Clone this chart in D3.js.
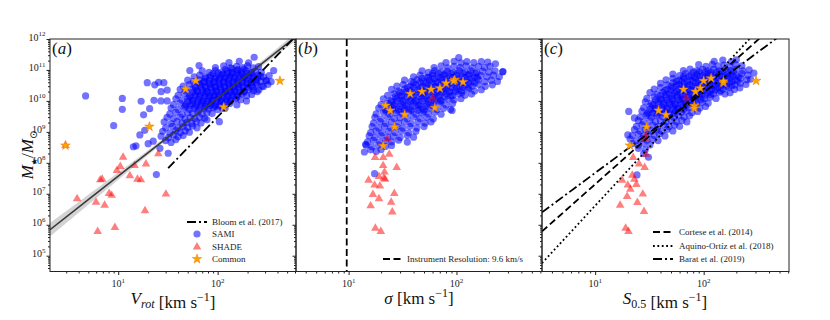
<!DOCTYPE html>
<html>
<head>
<meta charset="utf-8">
<script src="https://cdn.jsdelivr.net/npm/d3@7"></script>
<style>
  body { margin: 0; background: #fff; }
  svg { font-family: "Liberation Serif", "DejaVu Serif", serif; }
</style>
</head>
<body>
<div id="chart"></div>
<script>
// values: [velocity km/s, log10 stellar mass]
var samiVrot = [
  [4.7,10.16],[9.0,9.2],[11.0,10.08],[11.0,9.73],[14.2,8.52],[17,9.99],[16.5,8.9],[18,9.55],[18.5,9.05],[15.1,8.55],
  [20.7,9.75],[22.9,10.02],[19.6,10.59],[23.3,10.52],[25.5,10.6],[28.8,10.59],[31.1,10.35],[27,10.3],[26.9,10.0],[31.1,10.0],
  [20,8.62],[22.5,8.7],[26.3,8.47],[31.8,8.31],[24.2,7.62],[52.5,10.98],[65,11.14],[288,10.46],[366,10.98],[233,11.41],
  [156,9.87],[195,10.0],[104,9.33],[78,9.39],[119,9.76],[270,10.8],[310,10.65],[250,10.3],
  [30,8.72],[34,8.66],[38,8.75],
  [27,8.86],[32,8.82],[36,8.9],[40,8.84],[45,8.88],
  [28,9.02],[33,8.97],[38,9.04],[42,8.98],[47,9.03],[52,8.99],
  [30,9.13],[35,9.18],[40,9.12],[45,9.17],[50,9.14],[56,9.19],[62,9.13],
  [29,9.32],[34,9.27],[39,9.33],[44,9.28],[49,9.31],[55,9.27],[61,9.33],[68,9.29],
  [31,9.47],[36,9.43],[42,9.48],[47,9.42],[53,9.46],[59,9.43],[66,9.47],[74,9.44],
  [33,9.58],[38,9.63],[44,9.57],[50,9.62],[56,9.59],[63,9.64],[70,9.58],[78,9.62],[88,9.59],
  [34,9.77],[40,9.72],[46,9.78],[52,9.73],[58,9.76],[65,9.71],[73,9.77],[81,9.74],[90,9.78],[100,9.72],[112,9.76],
  [47,9.83],[53,9.85],[60,9.82],[67,9.84],[75,9.83],[84,9.85],[94,9.82],[104,9.84],
  [36,9.88],[42,9.93],[48,9.87],[55,9.92],[62,9.88],[69,9.93],[77,9.89],[86,9.92],[95,9.87],[106,9.93],[118,9.89],[132,9.92],
  [50,9.98],[56,10.0],[63,9.97],[71,9.99],[79,9.98],[88,10.0],[98,9.97],[109,9.99],[121,9.98],[135,10.0],
  [38,10.07],[44,10.02],[50,10.08],[57,10.03],[64,10.06],[72,10.02],[80,10.08],[89,10.03],[99,10.07],[110,10.02],[122,10.06],[136,10.03],[152,10.07],[170,10.04],
  [52,10.13],[59,10.15],[66,10.12],[74,10.14],[83,10.13],[92,10.15],[102,10.12],[113,10.14],[126,10.13],[140,10.15],[156,10.12],
  [40,10.18],[46,10.23],[53,10.17],[60,10.22],[67,10.18],[75,10.23],[84,10.17],[93,10.21],[103,10.18],[115,10.23],[128,10.17],[142,10.22],[158,10.18],[176,10.22],[196,10.17],[220,10.21],
  [56,10.28],[63,10.3],[71,10.27],[79,10.29],[88,10.28],[98,10.3],[109,10.27],[121,10.29],[135,10.28],[150,10.3],[167,10.27],[186,10.29],
  [42,10.37],[48,10.32],[55,10.38],[62,10.33],[70,10.36],[78,10.32],[87,10.38],[97,10.33],[108,10.37],[120,10.32],[133,10.36],[148,10.33],[165,10.38],[184,10.32],[205,10.37],[230,10.33],[260,10.36],
  [60,10.43],[68,10.45],[76,10.42],[85,10.44],[95,10.43],[106,10.45],[118,10.42],[131,10.44],[146,10.43],[162,10.45],[181,10.42],[202,10.44],[226,10.43],
  [45,10.48],[52,10.53],[59,10.47],[67,10.52],[75,10.48],[84,10.53],[94,10.47],[105,10.52],[117,10.48],[130,10.53],[145,10.47],[161,10.52],[180,10.48],[200,10.53],[222,10.47],[248,10.52],[280,10.48],[320,10.53],
  [65,10.58],[73,10.6],[82,10.57],[92,10.59],[103,10.58],[115,10.6],[128,10.57],[143,10.59],[160,10.58],[178,10.6],[198,10.57],[221,10.59],[246,10.58],
  [50,10.67],[57,10.62],[65,10.68],[73,10.63],[82,10.66],[92,10.62],[103,10.68],[115,10.63],[128,10.67],[142,10.62],[158,10.66],[176,10.63],[196,10.68],[218,10.62],[243,10.67],[270,10.63],[305,10.66],[345,10.62],
  [75,10.73],[84,10.75],[94,10.72],[105,10.74],[117,10.73],[131,10.75],[146,10.72],[163,10.74],[182,10.73],[203,10.75],[227,10.72],[253,10.74],
  [58,10.78],[66,10.83],[75,10.77],[85,10.82],[96,10.78],[108,10.83],[121,10.77],[135,10.82],[150,10.78],[167,10.83],[186,10.77],[207,10.82],[230,10.78],[256,10.83],[290,10.77],[330,10.82],
  [90,10.88],[101,10.9],[113,10.87],[126,10.89],[141,10.88],[158,10.9],[177,10.87],[198,10.89],[222,10.88],
  [70,10.97],[82,10.92],[95,10.98],[110,10.93],[125,10.96],[140,10.92],[156,10.98],[174,10.93],[194,10.97],[216,10.92],[240,10.96],[275,10.93],
  [120,11.02],[140,11.04],[160,11.01],[185,11.03],
  [95,11.08],[115,11.13],[135,11.07],[155,11.12],[178,11.08],[200,11.13],[228,11.07],[258,11.11],
  [130,11.24],[165,11.28],[205,11.23]
];
var samiSigma = [
  [17.4,7.65],[91,9.69],[14.4,8.6],[270,10.95],[14,8.35],[230,11.2],[195,11.25],[105,11.4],
  [16,8.42],[18,8.37],[20,8.43],
  [14.5,8.57],[16.5,8.52],[19,8.58],[22,8.53],[25,8.56],
  [15,8.68],[17,8.73],[19.5,8.67],[22,8.72],[25,8.68],[29,8.73],[35,8.67],
  [15.5,8.87],[17.5,8.82],[20,8.88],[23,8.83],[26,8.86],[30,8.82],[35,8.88],[40,8.83],
  [16,8.98],[18,9.03],[20.5,8.97],[23.5,9.02],[27,8.98],[31,9.03],[36,8.97],[42,9.02],
  [16.5,9.17],[19,9.12],[21.5,9.18],[24.5,9.13],[28,9.16],[32,9.12],[37,9.18],[43,9.13],[50,9.17],
  [17,9.28],[19.5,9.33],[22,9.27],[25,9.32],[29,9.28],[33,9.33],[38,9.27],[44,9.32],[51,9.28],[58,9.32],
  [17.5,9.47],[20,9.42],[23,9.48],[26.5,9.43],[30,9.46],[35,9.42],[40,9.48],[46,9.43],[53,9.47],[61,9.42],
  [18,9.58],[21,9.63],[24,9.57],[27.5,9.62],[31.5,9.58],[36,9.63],[42,9.57],[48,9.62],[55,9.58],[63,9.63],[72,9.57],
  [22,9.68],[25,9.7],[29,9.67],[33,9.69],[38,9.68],[44,9.7],[50,9.67],
  [19,9.77],[22,9.72],[25.5,9.78],[29,9.73],[33,9.76],[38,9.72],[44,9.78],[50,9.73],[57,9.77],[66,9.72],[76,9.76],[88,9.73],
  [23,9.83],[26,9.85],[30,9.82],[34,9.84],[39,9.83],[45,9.85],[52,9.82],[60,9.84],
  [20,9.88],[23,9.93],[26.5,9.87],[30.5,9.92],[35,9.88],[40,9.93],[46,9.87],[53,9.92],[61,9.88],[70,9.93],[80,9.87],[92,9.92],
  [25,9.98],[28,10.0],[32,9.97],[37,9.99],[42,9.98],[48,10.0],[55,9.97],[63,9.99],[72,9.98],
  [21,10.07],[24.5,10.02],[28,10.08],[32,10.03],[37,10.06],[42,10.02],[48,10.08],[55,10.03],[63,10.07],[72,10.02],[83,10.06],[95,10.03],[110,10.07],
  [27,10.13],[31,10.15],[35,10.12],[40,10.14],[46,10.13],[52,10.15],[60,10.12],[68,10.14],[78,10.13],[89,10.15],
  [23,10.18],[26.5,10.23],[30.5,10.17],[35,10.22],[40,10.18],[46,10.23],[53,10.17],[61,10.22],[70,10.18],[80,10.23],[92,10.17],[105,10.22],[120,10.18],[138,10.22],
  [30,10.28],[34,10.3],[39,10.27],[45,10.29],[51,10.28],[58,10.3],[66,10.27],[75,10.29],[86,10.28],[98,10.3],[112,10.27],
  [25,10.37],[29,10.32],[33,10.38],[38,10.33],[44,10.36],[50,10.32],[57,10.38],[65,10.33],[75,10.37],[86,10.32],[98,10.36],[112,10.33],[128,10.38],[147,10.32],[170,10.36],
  [35,10.43],[40,10.45],[46,10.42],[52,10.44],[59,10.43],[67,10.45],[77,10.42],[88,10.44],[100,10.43],[114,10.45],[130,10.42],
  [28,10.48],[32,10.53],[37,10.47],[42,10.52],[48,10.48],[55,10.53],[63,10.47],[72,10.52],[82,10.48],[94,10.53],[107,10.47],[122,10.52],[140,10.48],[160,10.53],[185,10.47],[215,10.52],
  [40,10.58],[46,10.6],[52,10.57],[59,10.59],[67,10.58],[76,10.6],[87,10.57],[99,10.59],[113,10.58],[129,10.6],[147,10.57],
  [33,10.67],[38,10.62],[43,10.68],[49,10.63],[56,10.66],[64,10.62],[73,10.68],[83,10.63],[95,10.67],[108,10.62],[123,10.66],[140,10.63],[160,10.68],[183,10.62],[210,10.67],[240,10.63],
  [48,10.73],[55,10.75],[62,10.72],[71,10.74],[81,10.73],[92,10.75],[105,10.72],[120,10.74],[137,10.73],[156,10.75],
  [40,10.78],[46,10.83],[53,10.77],[60,10.82],[68,10.78],[77,10.83],[88,10.77],[100,10.82],[114,10.78],[130,10.83],[148,10.77],[168,10.82],[192,10.78],[220,10.83],[250,10.78],
  [60,10.88],[68,10.9],[78,10.87],[89,10.89],[101,10.88],[115,10.9],[131,10.87],[150,10.89],
  [48,10.97],[55,10.92],[63,10.98],[72,10.93],[82,10.96],[93,10.92],[106,10.98],[120,10.93],[136,10.97],[154,10.92],[175,10.96],[200,10.93],[228,10.97],[268,10.94],
  [62,11.08],[72,11.13],[83,11.07],[95,11.12],[108,11.08],[123,11.13],[140,11.07],[160,11.12],[182,11.08],[205,11.12],
  [80,11.24],[95,11.28],[110,11.23],[125,11.27],[145,11.24],[170,11.27]
];
var samiS05 = [
  [20.4,9.66],[23,9.45],[31,8.18],[24.3,7.61],[20,8.9],[28,8.3],[270,10.7],[290,10.9],
  [25,8.47],[29,8.43],
  [22,8.62],[25,8.57],[28,8.63],[32,8.58],
  [21,8.77],[24,8.72],[27,8.78],[30,8.73],[34,8.76],[38,8.72],
  [22,8.88],[25,8.93],[28,8.87],[31,8.92],[35,8.88],[39,8.93],[44,8.87],
  [23,9.07],[26,9.02],[29,9.08],[33,9.03],[37,9.06],[41,9.02],[46,9.08],[52,9.03],
  [24,9.18],[27,9.23],[30.5,9.17],[34,9.22],[38,9.18],[43,9.23],[48,9.17],[54,9.22],[60,9.18],
  [25,9.37],[28,9.32],[32,9.38],[36,9.33],[40,9.36],[45,9.32],[50,9.38],[56,9.33],[63,9.37],[70,9.32],
  [26,9.48],[29.5,9.53],[33,9.47],[37,9.52],[42,9.48],[47,9.53],[53,9.47],[59,9.52],[66,9.48],[74,9.52],
  [30,9.58],[34,9.6],[38,9.57],[43,9.59],[48,9.58],[54,9.6],
  [27,9.67],[31,9.62],[35,9.68],[39,9.63],[44,9.66],[49,9.62],[55,9.68],[62,9.63],[69,9.67],[78,9.62],[88,9.66],
  [32,9.73],[36,9.75],[41,9.72],[46,9.74],[52,9.73],[58,9.75],[65,9.72],
  [28,9.78],[32,9.83],[36,9.77],[41,9.82],[46,9.78],[52,9.83],[58,9.77],[65,9.82],[73,9.78],[82,9.83],[92,9.77],[104,9.82],
  [34,9.88],[38,9.9],[43,9.87],[49,9.89],[55,9.88],[62,9.9],[70,9.87],[79,9.89],
  [29,9.97],[33,9.92],[38,9.98],[43,9.93],[48,9.96],[54,9.92],[61,9.98],[68,9.93],[77,9.97],[86,9.92],[97,9.96],[110,9.93],
  [36,10.03],[41,10.05],[46,10.02],[52,10.04],[59,10.03],[66,10.05],[74,10.02],[84,10.04],[94,10.03],
  [30,10.08],[35,10.13],[40,10.07],[45,10.12],[51,10.08],[57,10.13],[64,10.07],[72,10.12],[81,10.08],[91,10.13],[102,10.07],[115,10.12],[130,10.08],
  [40,10.18],[45,10.2],[51,10.17],[57,10.19],[64,10.18],[72,10.2],[81,10.17],[91,10.19],[103,10.18],[116,10.2],
  [32,10.27],[37,10.22],[42,10.28],[48,10.23],[54,10.26],[61,10.22],[68,10.28],[77,10.23],[86,10.27],[97,10.22],[109,10.26],[123,10.23],[139,10.28],[157,10.22],[175,10.26],
  [44,10.33],[50,10.35],[56,10.32],[63,10.34],[71,10.33],[80,10.35],[90,10.32],[101,10.34],[114,10.33],[128,10.35],[144,10.32],
  [35,10.38],[40,10.43],[46,10.37],[52,10.42],[59,10.38],[66,10.43],[74,10.37],[83,10.42],[94,10.38],[106,10.43],[119,10.37],[134,10.42],[151,10.38],[170,10.43],[192,10.37],[215,10.42],
  [50,10.48],[56,10.5],[63,10.47],[71,10.49],[80,10.48],[90,10.5],[101,10.47],[114,10.49],[128,10.48],[144,10.5],[162,10.47],[182,10.49],
  [40,10.57],[46,10.52],[52,10.58],[59,10.53],[66,10.56],[74,10.52],[84,10.58],[95,10.53],[107,10.57],[120,10.52],[135,10.56],[152,10.53],[172,10.58],[194,10.52],[218,10.57],[245,10.53],
  [56,10.63],[63,10.65],[71,10.62],[80,10.64],[90,10.63],[101,10.65],[114,10.62],[128,10.64],[144,10.63],[162,10.65],[182,10.62],[205,10.64],
  [45,10.68],[52,10.73],[59,10.67],[66,10.72],[75,10.68],[85,10.73],[96,10.67],[108,10.72],[122,10.68],[137,10.73],[154,10.67],[174,10.72],[196,10.68],[220,10.73],[250,10.68],
  [65,10.78],[73,10.8],[82,10.77],[92,10.79],[104,10.78],[117,10.8],[131,10.77],[147,10.79],[166,10.78],[186,10.8],[210,10.77],
  [52,10.87],[60,10.82],[68,10.88],[77,10.83],[87,10.86],[98,10.82],[110,10.88],[124,10.83],[140,10.87],[158,10.82],[178,10.86],[200,10.83],[225,10.88],[255,10.83],
  [80,10.93],[91,10.95],[103,10.92],[116,10.94],[131,10.93],[148,10.95],[167,10.92],[188,10.94],
  [65,10.98],[75,11.03],[86,10.97],[98,11.02],[110,10.98],[124,11.03],[140,10.97],[158,11.02],[178,10.98],[200,11.03],[230,10.97],[262,11.0],
  [90,11.17],[105,11.12],[120,11.18],[136,11.13],[154,11.16],[174,11.12],[196,11.18],[225,11.13],
  [125,11.28],[150,11.32],[180,11.27],[200,11.33]
];

var shadeVrot = [
  [2.95,8.56],[3.86,6.84],[5.98,6.73],[6.21,5.78],[6.6,7.45],[6.9,7.47],[7.3,6.63],[8.1,7.01],[8.6,6.95],[9.26,5.91],
  [9.7,7.75],[10.5,7.88],[11.2,8.18],[13.1,7.58],[14.6,7.91],[15.6,7.47],[16.9,7.45],[18.6,6.45],[19.0,7.96],[25.3,8.29],[30.2,6.99]
];
var shadeSigma = [
  [60.3,10.09],[22.9,8.77],[23.8,8.28],[17.6,8.17],[20.9,8.17],[20.9,7.91],[27.9,7.85],[21.5,7.70],[21.8,7.47],[21.2,7.50],
  [15.3,7.44],[17.4,7.28],[19.1,7.56],[19.5,7.25],[16.8,6.98],[19.1,6.84],[26.5,7.01],[16.0,6.61],[24.8,6.73],[25.4,6.41],[17.7,5.89],[19.9,5.78]
];
var shadeS05 = [
  [69,10.09],[29,8.77],[29.4,8.28],[22.4,8.17],[25.4,7.96],[28.6,7.85],[23,7.47],[17.7,7.44],[20,7.28],[21.1,7.15],
  [19.7,6.91],[27.5,6.99],[17,6.63],[24.5,6.72],[28.2,6.43],[19.1,5.89],[20.3,5.78],[22,7.6],[24,7.3],[29.5,8.9]
];

var commonVrot = [[2.95,8.56],[20.6,9.17],[47.5,10.38],[60.3,10.65],[423,10.65],[115,9.8]];
var commonSigma = [
  [20.9,8.55],[26.7,9.16],[33.1,9.56],[22,9.85],[24.3,9.69],[37.2,10.23],[47.9,10.30],
  [58.2,10.37],[70.2,10.41],[80,10.57],[96.4,10.68],[94,10.64],[115,10.61],[63,9.78]
];
var commonS05 = [
  [20.9,8.56],[29.8,9.16],[38.4,9.69],[45,9.55],[65.3,10.37],[84,10.30],[82,9.84],[82,9.76],
  [93,10.41],[100,10.65],[117,10.73],[152,10.58],[152,10.63],[304,10.65]
];

// fitted relation in panel (a) with its spread
var fitV = [2.06, 5, 10, 20, 40, 80, 160, 320, 640];
var fitLogM = [5.84, 6.81, 7.57, 8.33, 9.09, 9.85, 10.6, 11.36, 12.12];
var fitSpread = [0.22, 0.16, 0.12, 0.08, 0.06, 0.05, 0.06, 0.09, 0.13];

var bloomLine = [[31.8, 7.83], [640, 12.16]];
var corteseLine = [[3.24, 5.785], [400, 12.29]];
var aquinoLine = [[3.24, 4.76], [300, 12.21]];
var baratLine = [[3.24, 6.40], [600, 12.30]];
var instrumentRes = 9.6;

var yExponents = [5, 6, 7, 8, 9, 10, 11, 12];

var svg = d3.select("#chart").append("svg")
  .attr("width", 830)
  .attr("height", 320);

var plotTop = 39, plotBottom = 271.5;
var ink = "#222";
var samiFill = "rgba(0,0,255,0.55)";

var y = d3.scaleLog().domain([Math.pow(10, 4.49), 1e12]).range([plotBottom, plotTop]);

var panels = [
  { x0: 50, x1: 296, dom: [2.06, 614], tag: "a", sami: samiVrot, shade: shadeVrot, common: commonVrot },
  { x0: 296, x1: 542, dom: [3.25, 621], tag: "b", sami: samiSigma, shade: shadeSigma, common: commonSigma },
  { x0: 542, x1: 789, dom: [3.24, 611], tag: "c", sami: samiS05, shade: shadeS05, common: commonS05 }
];

var triangle = d3.symbol().type(d3.symbolTriangle).size(32);
var star = d3.symbol().type(d3.symbolStar).size(28);

function minorTicks(dom) {
  var out = [];
  var e0 = Math.floor(Math.log10(dom[0])), e1 = Math.ceil(Math.log10(dom[1]));
  for (var e = e0; e <= e1; e++) {
    for (var k = 2; k <= 9; k++) {
      var v = k * Math.pow(10, e);
      if (v >= dom[0] && v <= dom[1]) out.push(v);
    }
  }
  return out;
}

function powLabel(sel, exp, size) {
  sel.append("tspan").text("10");
  sel.append("tspan").attr("font-size", size * 0.7).attr("dy", -size * 0.42).text(exp);
}

function drawLine(g, x, pts, dash) {
  g.append("path")
    .attr("d", d3.line().x(function (d) { return x(d[0]); }).y(function (d) { return y(Math.pow(10, d[1])); })(pts))
    .attr("fill", "none")
    .attr("stroke", "#000")
    .attr("stroke-width", 1.8)
    .attr("stroke-dasharray", dash);
}

panels.forEach(function (p, i) {
  var x = d3.scaleLog().domain(p.dom).range([p.x0, p.x1]);
  var g = svg.append("g");

  svg.append("clipPath").attr("id", "clip" + i)
    .append("rect")
    .attr("x", p.x0).attr("y", plotTop)
    .attr("width", p.x1 - p.x0).attr("height", plotBottom - plotTop);

  var plot = g.append("g").attr("clip-path", "url(#clip" + i + ")");

  if (i === 0) {
    var band = fitV.map(function (v, j) { return [v, fitLogM[j], fitSpread[j]]; });
    plot.append("path")
      .attr("d", d3.area()
        .x(function (d) { return x(d[0]); })
        .y0(function (d) { return y(Math.pow(10, d[1] - d[2])); })
        .y1(function (d) { return y(Math.pow(10, d[1] + d[2])); })(band))
      .attr("fill", "#c8c8c8")
      .attr("opacity", 0.8);
  }

  plot.selectAll(".sami")
    .data(p.sami)
    .enter().append("circle")
    .attr("cx", function (d) { return x(d[0]); })
    .attr("cy", function (d) { return y(Math.pow(10, d[1])); })
    .attr("r", 3.6)
    .attr("fill", samiFill);

  plot.selectAll(".shade")
    .data(p.shade)
    .enter().append("path")
    .attr("d", triangle)
    .attr("transform", function (d) { return "translate(" + x(d[0]) + "," + y(Math.pow(10, d[1])) + ")"; })
    .attr("fill", "rgba(255,0,0,0.5)");

  if (i === 0) {
    plot.append("path")
      .attr("d", d3.line().x(function (d, j) { return x(fitV[j]); }).y(function (d) { return y(Math.pow(10, d)); })(fitLogM))
      .attr("fill", "none")
      .attr("stroke", "#3a3a3a")
      .attr("stroke-width", 1.6);
    drawLine(plot, x, bloomLine, "9,3,2,3");
  }
  if (i === 1) {
    plot.append("line")
      .attr("x1", x(instrumentRes)).attr("x2", x(instrumentRes))
      .attr("y1", plotTop).attr("y2", plotBottom)
      .attr("stroke", "#000").attr("stroke-width", 1.8)
      .attr("stroke-dasharray", "7,3.5");
  }
  if (i === 2) {
    drawLine(plot, x, corteseLine, "7,3.5");
    drawLine(plot, x, aquinoLine, "1.8,2.6");
    drawLine(plot, x, baratLine, "9,3,2,3");
  }

  plot.selectAll(".common")
    .data(p.common)
    .enter().append("path")
    .attr("d", star)
    .attr("transform", function (d) { return "translate(" + x(d[0]) + "," + y(Math.pow(10, d[1])) + ")"; })
    .attr("fill", "#ffa500")
    .attr("stroke", "#e07a00")
    .attr("stroke-width", 0.5);

  // x axis
  var majors = [1, 10, 100].filter(function (v) { return v >= p.dom[0] && v <= p.dom[1]; });
  g.append("g")
    .attr("transform", "translate(0," + plotBottom + ")")
    .call(d3.axisBottom(x).tickValues(majors).tickSize(3.5).tickFormat(""))
    .call(function (a) { a.select(".domain").remove(); a.selectAll("line").attr("stroke", ink); });
  g.append("g")
    .attr("transform", "translate(0," + plotBottom + ")")
    .call(d3.axisBottom(x).tickValues(minorTicks(p.dom)).tickSize(2).tickFormat(""))
    .call(function (a) { a.select(".domain").remove(); a.selectAll("line").attr("stroke", ink); });
  majors.forEach(function (v) {
    g.append("text")
      .attr("x", x(v)).attr("y", 287)
      .attr("text-anchor", "middle")
      .attr("font-size", 10)
      .attr("fill", ink)
      .call(powLabel, Math.round(Math.log10(v)), 10);
  });

  // y axis
  g.append("g")
    .attr("transform", "translate(" + p.x0 + ",0)")
    .call(d3.axisLeft(y).tickValues(yExponents.map(function (e) { return Math.pow(10, e); })).tickSize(3.5).tickFormat(""))
    .call(function (a) { a.select(".domain").remove(); a.selectAll("line").attr("stroke", ink); });
  g.append("g")
    .attr("transform", "translate(" + p.x0 + ",0)")
    .call(d3.axisLeft(y).tickValues(minorTicks(y.domain())).tickSize(2).tickFormat(""))
    .call(function (a) { a.select(".domain").remove(); a.selectAll("line").attr("stroke", ink); });
  if (i === 0) {
    yExponents.forEach(function (e) {
      g.append("text")
        .attr("x", 45.5).attr("y", y(Math.pow(10, e)) + 1.5)
        .attr("text-anchor", "end")
        .attr("font-size", 10)
        .attr("fill", ink)
        .call(powLabel, e, 10);
    });
  }

  // frame
  g.append("rect")
    .attr("x", p.x0).attr("y", plotTop)
    .attr("width", p.x1 - p.x0).attr("height", plotBottom - plotTop)
    .attr("fill", "none").attr("stroke", ink).attr("stroke-width", 1);

  // panel tag
  var tag = g.append("text").attr("x", p.x0 + 2).attr("y", 54).attr("font-size", 17).attr("fill", "#111");
  tag.append("tspan").text("(");
  tag.append("tspan").attr("font-style", "italic").text(p.tag);
  tag.append("tspan").text(")");
});

// x labels
function unitLabel(t) {
  t.append("tspan").text(" [km s");
  t.append("tspan").attr("font-size", 12).attr("dy", -7).text("\u22121");
  t.append("tspan").attr("dy", 7).text("]");
}
var lx = [173, 419, 665];
var xl0 = svg.append("text").attr("x", lx[0]).attr("y", 304).attr("text-anchor", "middle").attr("font-size", 17).attr("fill", "#111");
xl0.append("tspan").attr("font-style", "italic").text("V");
xl0.append("tspan").attr("font-style", "italic").attr("font-size", 12).attr("dy", 4).text("rot");
xl0.append("tspan").attr("dy", -4).text("");
unitLabel(xl0);

var xl1 = svg.append("text").attr("x", lx[1]).attr("y", 304).attr("text-anchor", "middle").attr("font-size", 17).attr("fill", "#111");
xl1.append("tspan").attr("font-style", "italic").text("\u03c3");
unitLabel(xl1);

var xl2 = svg.append("text").attr("x", lx[2]).attr("y", 304).attr("text-anchor", "middle").attr("font-size", 17).attr("fill", "#111");
xl2.append("tspan").attr("font-style", "italic").text("S");
xl2.append("tspan").attr("font-size", 12).attr("dy", 4).text("0.5");
xl2.append("tspan").attr("dy", -4).text("");
unitLabel(xl2);

// y label
var yl = svg.append("text")
  .attr("transform", "translate(33,155) rotate(-90)")
  .attr("text-anchor", "middle")
  .attr("font-size", 17)
  .attr("fill", "#111");
yl.append("tspan").attr("font-style", "italic").text("M");
yl.append("tspan").attr("font-family", "DejaVu Sans").attr("font-size", 8).attr("dy", 4).text("\u2605");
yl.append("tspan").attr("dy", -4).text("/");
yl.append("tspan").attr("font-style", "italic").text("M");
yl.append("tspan").attr("font-family", "DejaVu Sans").attr("font-size", 10).attr("dy", 4).text("\u2299");

// legends
function legendText(x0, y0, label) {
  svg.append("text").attr("x", x0).attr("y", y0 + 3).attr("font-size", 9).attr("fill", "#222").text(label);
}
function legendLine(x0, x1, y0, dash) {
  svg.append("line").attr("x1", x0).attr("x2", x1).attr("y1", y0).attr("y2", y0)
    .attr("stroke", "#000").attr("stroke-width", 1.8).attr("stroke-dasharray", dash);
}

legendLine(187, 207, 222, "9,3,2,3");
legendText(212, 222, "Bloom et al. (2017)");
svg.append("circle").attr("cx", 197).attr("cy", 234).attr("r", 3.6).attr("fill", samiFill);
legendText(212, 234, "SAMI");
svg.append("path").attr("d", triangle).attr("transform", "translate(197,247)").attr("fill", "rgba(255,0,0,0.5)");
legendText(212, 247, "SHADE");
svg.append("path").attr("d", star).attr("transform", "translate(197,259)").attr("fill", "#ffa500").attr("stroke", "#e07a00").attr("stroke-width", 0.5);
legendText(212, 259, "Common");

legendLine(383, 401, 259, "7,3.5");
legendText(407, 259, "Instrument Resolution: 9.6 km/s");

legendLine(653, 673, 232, "7,3.5");
legendText(679, 232, "Cortese et al. (2014)");
legendLine(653, 673, 246, "1.8,2.6");
legendText(679, 246, "Aquino-Ort\u00edz et al. (2018)");
legendLine(653, 673, 259, "9,3,2,3");
legendText(679, 259, "Barat et al. (2019)");
</script>
</body>
</html>
